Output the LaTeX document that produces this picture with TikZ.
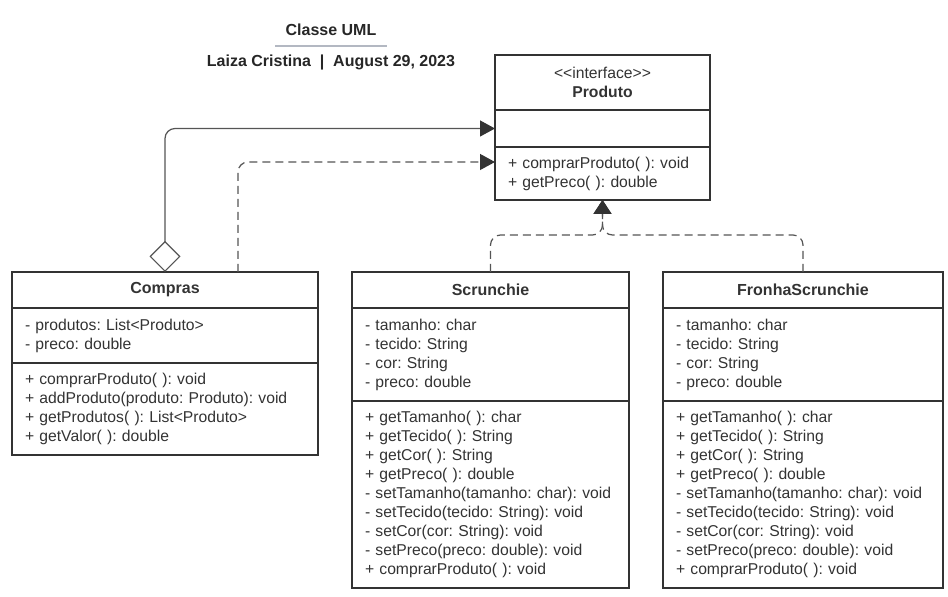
\documentclass[tikz,border=0pt]{standalone}
\usepackage{fontspec}
\setmainfont{Liberation Sans}
\usetikzlibrary{positioning,arrows.meta,calc}
\frenchspacing

\definecolor{ink}{HTML}{333333}
\definecolor{wire}{HTML}{555555}
\definecolor{rulegray}{HTML}{B3B8C2}

\tikzset{
  classbox/.style={rectangle, draw=ink, line width=1.8pt, outer sep=0pt, inner xsep=13pt, inner ysep=0pt, text=ink, font=\fontsize{15.7}{19}\selectfont},
  classhead/.style={classbox, align=center, text width=#1, minimum height=36pt, font=\fontsize{16}{19}\selectfont\bfseries},
  classpart/.style 2 args={classbox, align=left, text width=#1, minimum height=#2},
  wire/.style={draw=wire, line width=1.2pt, rounded corners=10pt},
  realize/.style={wire, dash pattern=on 8pt off 5pt},
  tip/.style={-{Triangle[length=15pt,width=16pt,color=ink]}},
  inherit/.style={-{Triangle[length=14pt,width=18pt,color=ink]}}
}

\begin{document}
\begin{tikzpicture}[x=1pt, y=1pt]
\useasboundingbox (0,0) rectangle (948,597);

\node (title) [font=\fontsize{16}{19}\selectfont\bfseries, text=black!85] at (331,567) {Classe UML};
\draw[rulegray, line width=2pt] ($(title.center)+(-56,-16)$) -- ++(112,0);
\node (author) [font=\fontsize{16}{19}\selectfont\bfseries, text=black!85] at (331,535) {Laiza Cristina\ \ |\ \ August 29, 2023};

\node (produto) [classpart={189pt}{55pt}, align=center, anchor=north west] at (495,542) {<{}<interface>{}>\\\textbf{Produto}};
\node (produto-attr) [classpart={189pt}{37pt}, below=0pt of produto] {};
\node (produto-ops) [classpart={189pt}{53pt}, below=0pt of produto-attr] {+ comprarProduto( ): void\\+ getPreco( ): double};

\node (compras) [classhead=280pt, anchor=north west] at (12,325) {Compras};
\node (compras-attr) [classpart={280pt}{55pt}, below=0pt of compras] {- produtos: List<Produto>\\- preco: double};
\node (compras-ops) [classpart={280pt}{92pt}, below=0pt of compras-attr] {+ comprarProduto( ): void\\+ addProduto(produto: Produto): void\\+ getProdutos( ): List<Produto>\\+ getValor( ): double};

\node (scrunchie) [classhead=251pt, right=34pt of compras] {Scrunchie};
\node (scrunchie-attr) [classpart={251pt}{93pt}, below=0pt of scrunchie] {- tamanho: char\\- tecido: String\\- cor: String\\- preco: double};
\node (scrunchie-ops) [classpart={251pt}{187pt}, below=0pt of scrunchie-attr] {+ getTamanho( ): char\\+ getTecido( ): String\\+ getCor( ): String\\+ getPreco( ): double\\- setTamanho(tamanho: char): void\\- setTecido(tecido: String): void\\- setCor(cor: String): void\\- setPreco(preco: double): void\\+ comprarProduto( ): void};

\node (fronha) [classhead=254pt, right=34pt of scrunchie] {FronhaScrunchie};
\node (fronha-attr) [classpart={254pt}{93pt}, below=0pt of fronha] {- tamanho: char\\- tecido: String\\- cor: String\\- preco: double};
\node (fronha-ops) [classpart={254pt}{187pt}, below=0pt of fronha-attr] {+ getTamanho( ): char\\+ getTecido( ): String\\+ getCor( ): String\\+ getPreco( ): double\\- setTamanho(tamanho: char): void\\- setTecido(tecido: String): void\\- setCor(cor: String): void\\- setPreco(preco: double): void\\+ comprarProduto( ): void};

\draw[wire, {Diamond[open,length=31pt,width=31pt]}-{Triangle[length=15pt,width=16pt,color=ink]}] (compras.north) |- (produto-attr.west);
\draw[realize, tip] ($(compras.north)+(73,0)$) |- ($(produto-ops.north west)+(0,-15)$);

\coordinate (fork) at ($(produto-ops.south)+(0,-35)$);
\draw[realize, inherit] (scrunchie.north) |- (fork) -- (produto-ops.south);
\draw[realize, inherit] (fronha.north) |- (fork) -- (produto-ops.south);

\end{tikzpicture}
\end{document}
